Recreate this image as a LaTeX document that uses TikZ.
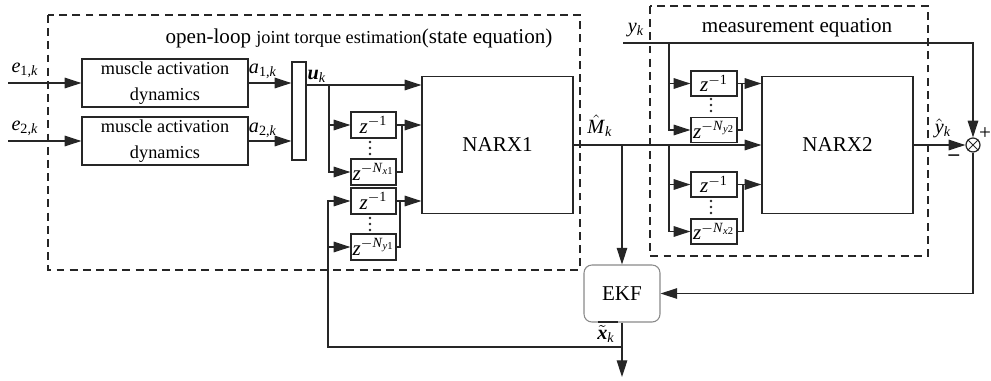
\documentclass[tikz,border=0pt]{standalone}
\usepackage{fontspec}
\setmainfont{Liberation Serif}
\usetikzlibrary{arrows.meta,calc}
\definecolor{wire}{HTML}{262626}
\definecolor{ekfgray}{HTML}{8A8A8A}
\newcommand{\mi}[1]{\textit{#1}}
\newcommand{\sbs}[1]{\textsubscript{#1}}
\newcommand{\sps}[1]{\textsuperscript{#1}}
\tikzset{
  >={Triangle[length=9.5pt,width=6pt]},
  %% nodes
  block/.style   = {draw=wire, line width=0.7pt, fill=white, inner sep=0pt,
                    align=center, font=\fontsize{10.4}{14.5}\selectfont},
  ekfbox/.style  = {draw=ekfgray, line width=0.6pt, rounded corners=4.5pt, fill=white,
                    inner sep=0pt, font=\fontsize{12}{14}\selectfont},
  sumnode/.style = {circle, draw=wire, line width=0.7pt, inner sep=0pt, minimum size=0.28cm},
  %% lines
  sig/.style     = {->, draw=wire, line width=0.7pt},
  wireln/.style  = {-, draw=wire, line width=0.7pt},
  dashbox/.style = {draw=wire, line width=0.7pt, dash pattern=on 4.5pt off 3pt},
  %% annotations
  lbl/.style     = {inner sep=0pt, font=\fontsize{11.5}{13}\selectfont},
  ttl/.style     = {inner sep=0pt, font=\fontsize{12}{14}\selectfont},
}

\begin{document}
\begin{tikzpicture}[x=0.02cm, y=-0.02cm,
  mad/.style  = {block, minimum width=3.32cm, minimum height=0.96cm},
  zbox/.style = {block, minimum width=0.9cm, minimum height=0.52cm, font=\fontsize{12}{13}\selectfont},
  narx/.style = {block, minimum width=3.02cm, minimum height=2.74cm, font=\fontsize{12}{14}\selectfont},
]
\useasboundingbox (0,0) rectangle (991,380);

%% ============ state equation (open loop) ============
\draw[dashbox] (48,15) rectangle (580,270);
\node[ttl] (ttl1) at (359,38) {open-loop {\fontsize{10.4}{12}\selectfont joint torque estimation}(state equation)};

\node[mad] (mad1) at (165,83) {muscle activation\\dynamics};
\node[mad] (mad2) at (165,141) {muscle activation\\dynamics};
\node[block, minimum width=0.28cm, minimum height=1.96cm] (mux) at (299,111) {};

\coordinate (e1in) at (8,83);
\coordinate (e2in) at (8,141);
\draw[sig] (e1in) -- (mad1.west);
\draw[sig] (e2in) -- (mad2.west);
\node[lbl] (e1lbl) at (25,70) {\mi{e}\sbs{1,\mi{k}}};
\node[lbl] (e2lbl) at (25,128) {\mi{e}\sbs{2,\mi{k}}};
\draw[sig] (mad1.east) -- (mad1.east -| mux.west);
\draw[sig] (mad2.east) -- (mad2.east -| mux.west);
\node[lbl] (a1lbl) at (263,71) {\mi{a}\sbs{1,\mi{k}}};
\node[lbl] (a2lbl) at (263,130) {\mi{a}\sbs{2,\mi{k}}};

\node[narx] (narx1) at (497.5,145) {NARX1};
\coordinate (uout) at (306,85);
\draw[sig] (uout) -- (uout -| narx1.west);
\node[lbl] (ulbl) at (317,76) {\textbf{\textit{u}}\sbs{\mi{k}}};

%% delay lines of the input
\node[zbox] (zx1a) at (373.5,125) {\mi{z}\sps{$-$1}};
\node[zbox] (zx1b) at (373.5,172) {\mi{z}\sps{$-$\mi{N}\sbs{\mi{x}1}}};
\foreach \d in {142,148,154} \fill[wire] (370,\d) circle (0.8pt);
\coordinate (ubr) at (329,85);
\draw[sig] (ubr) |- (zx1b.west);
\draw[sig] (ubr |- zx1a.west) -- (zx1a.west);
\coordinate (mx1) at (402,125);
\draw[wireln] (zx1a.east) -- (mx1);
\draw[wireln] (zx1b.east) -| (mx1);
\draw[sig] (mx1) -- (mx1 -| narx1.west);

%% delay lines of the fed back state
\node[zbox] (zy1a) at (373.5,201) {\mi{z}\sps{$-$1}};
\node[zbox] (zy1b) at (373.5,247) {\mi{z}\sps{$-$\mi{N}\sbs{\mi{y}1}}};
\foreach \d in {218,224,230} \fill[wire] (370,\d) circle (0.8pt);
\coordinate (my1) at (400,201);
\draw[wireln] (zy1a.east) -- (my1);
\draw[wireln] (zy1b.east) -| (my1);
\draw[sig] (my1) -- (my1 -| narx1.west);

%% ============ measurement equation ============
\draw[dashbox] (650,6) rectangle (928,256);
\node[ttl] (ttl2) at (797,28) {measurement equation};
\node[narx] (narx2) at (837.5,145) {NARX2};

\node[zbox, minimum width=0.92cm, minimum height=0.5cm] (zy2a) at (714,83.5) {\mi{z}\sps{$-$1}};
\node[zbox, minimum width=0.92cm, minimum height=0.5cm] (zy2b) at (714,130) {\mi{z}\sps{$-$\mi{N}\sbs{\mi{y}2}}};
\foreach \d in {99,105,111} \fill[wire] (711,\d) circle (0.8pt);
\node[zbox, minimum width=0.92cm, minimum height=0.5cm] (zx2a) at (714,184.5) {\mi{z}\sps{$-$1}};
\node[zbox, minimum width=0.92cm, minimum height=0.5cm] (zx2b) at (714,231.5) {\mi{z}\sps{$-$\mi{N}\sbs{\mi{x}2}}};
\foreach \d in {201,207,213} \fill[wire] (711,\d) circle (0.8pt);

\node[sumnode] (sum) at (973,145) {};
\draw[wireln, line width=0.5pt] (sum.north west) -- (sum.south east);
\draw[wireln, line width=0.5pt] (sum.north east) -- (sum.south west);

\coordinate (yin) at (623,43);
\draw[sig] (yin) -| (sum.north);
\node[lbl] (ylbl) at (636,30) {\mi{y}\sbs{\mi{k}}};
\coordinate (ybr) at (669,43);
\draw[sig] (ybr) |- (zy2b.west);
\draw[sig] (ybr |- zy2a.west) -- (zy2a.west);
\coordinate (my2) at (742,83.5);
\draw[wireln] (zy2a.east) -- (my2);
\draw[wireln] (zy2b.east) -| (my2);
\draw[sig] (my2) -- (my2 -| narx2.west);

\draw[sig] (narx1.east) -- (narx2.west);
\node[lbl] (mlbl) at (600,126) {$\hat{\mbox{\mi{M}}}$\sbs{\mi{k}}};
\coordinate (mbr) at (669,145);
\draw[sig] (mbr) |- (zx2b.west);
\draw[sig] (mbr |- zx2a.west) -- (zx2a.west);
\coordinate (mx2) at (743,184.5);
\draw[wireln] (zx2a.east) -- (mx2);
\draw[wireln] (zx2b.east) -| (mx2);
\draw[sig] (mx2) -- (mx2 -| narx2.west);

\draw[sig] (narx2.east) -- (sum.west);
\node[lbl] (yhlbl) at (943,128) {$\hat{\mbox{\mi{y}}}$\sbs{\mi{k}}};
\node[ttl] (plus) at (985,134) {+};
\node[ttl] (minus) at (954,158) {\textbf{\textendash}};

%% ============ EKF and feedback ============
\node[ekfbox, minimum width=1.52cm, minimum height=1.14cm] (ekf) at (622,293.5) {EKF};
\coordinate (mtap) at (622,145);
\draw[sig] (mtap) -- (ekf.north);
\draw[sig] (sum.south) |- (ekf.east);

\coordinate (xout) at (622,377);
\draw[sig] (ekf.south) -- (xout);
\coordinate (fbx) at (328,347);
\draw[sig] (ekf.south |- fbx) -- (fbx) |- (zy1a.west);
\draw[sig] (fbx |- zy1b.west) -- (zy1b.west);
\node[lbl] (xlbl) at (606,334) {$\tilde{\mbox{\textbf{\textit{x}}}}$\sbs{\mi{k}}};
\draw[wireln, line width=1.6pt] (598,347) -- (618,347);
\draw[wireln, line width=1.2pt] (598,322) -- (618,322);

\end{tikzpicture}
\end{document}
